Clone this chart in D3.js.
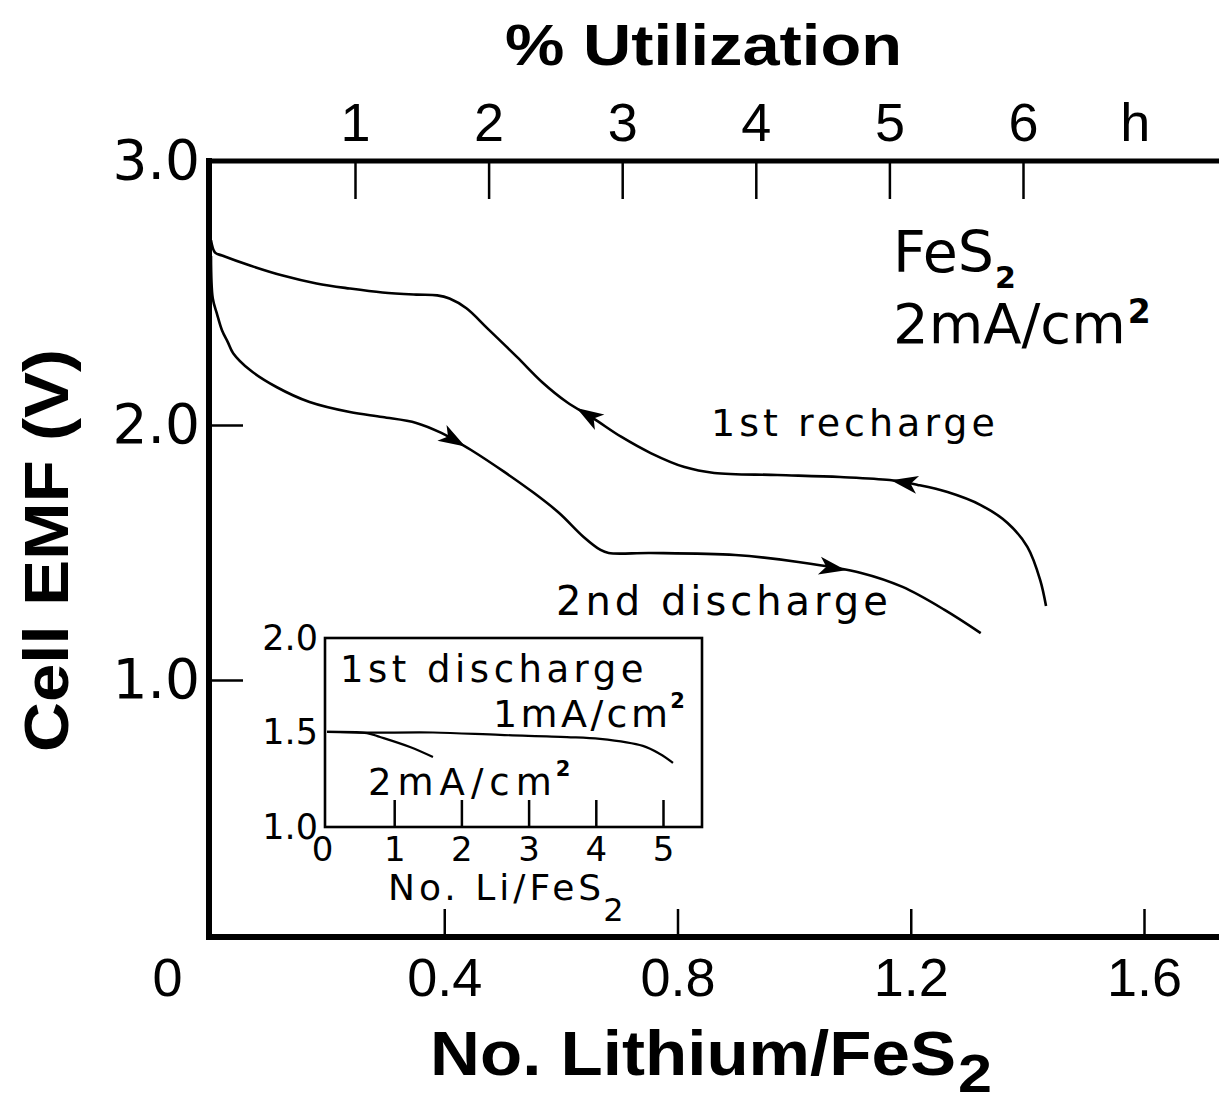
<!DOCTYPE html>
<html>
<head>
<meta charset="utf-8">
<script src="https://cdn.jsdelivr.net/npm/d3@7"></script>
<style>
  html, body { margin: 0; padding: 0; background: #fff; }
  svg { display: block; }
</style>
</head>
<body>
<svg id="chart" width="1219" height="1102"></svg>
<script>
// Li / FeS2 cell: cell EMF against lithium taken up per FeS2

// main axes
const liTicks = [0, 0.4, 0.8, 1.2, 1.6];
const liTickLabels = ["0", "0.4", "0.8", "1.2", "1.6"];
const voltTicks = [1, 2, 3];
const voltTickLabels = ["1.0", "2.0", "3.0"];
const hourTicks = [1, 2, 3, 4, 5, 6];

// [Li per FeS2, cell EMF in V], listed in the order the cell travelled
const recharge1 = [
  [1.432, 1.290], [1.422, 1.392], [1.400, 1.522], [1.366, 1.616], [1.320, 1.686],
  [1.263, 1.737], [1.212, 1.765], [1.164, 1.784], [1.079, 1.796], [0.971, 1.804],
  [0.863, 1.812], [0.812, 1.835], [0.754, 1.890], [0.704, 1.953], [0.655, 2.026],
  [0.610, 2.087], [0.568, 2.162], [0.525, 2.257], [0.474, 2.366], [0.438, 2.442],
  [0.409, 2.479], [0.388, 2.491], [0.352, 2.494], [0.294, 2.502], [0.238, 2.517],
  [0.181, 2.536], [0.123, 2.566], [0.067, 2.604], [0.019, 2.642], [0.007, 2.653],
  [0.000, 2.700]
];
const discharge2 = [
  [0.000, 2.640], [0.003, 2.480], [0.010, 2.423], [0.019, 2.358], [0.029, 2.313],
  [0.038, 2.272], [0.067, 2.208], [0.113, 2.143], [0.169, 2.087], [0.238, 2.049],
  [0.294, 2.030], [0.352, 2.008], [0.395, 1.969], [0.417, 1.941], [0.446, 1.902],
  [0.503, 1.816], [0.554, 1.733], [0.597, 1.655], [0.639, 1.561], [0.668, 1.510],
  [0.682, 1.498], [0.754, 1.498], [0.899, 1.490], [1.007, 1.463], [1.115, 1.420],
  [1.186, 1.365], [1.258, 1.275], [1.320, 1.184]
];
// where the direction arrows sit (Li per FeS2)
const rechargeArrows = [1.166, 0.627];
const dischargeArrows = [0.436, 1.089];

// inset: first discharge at two current densities
const insetLiTicks = [0, 1, 2, 3, 4, 5];
const insetVoltTicks = [1.0, 1.5, 2.0];
const insetVoltLabels = ["1.0", "1.5", "2.0"];
const firstDischarge1mA = [
  [0.000, 1.503], [0.595, 1.499], [1.577, 1.500], [2.574, 1.487], [3.571, 1.476],
  [4.063, 1.466], [4.700, 1.429], [4.955, 1.386], [5.149, 1.339]
];
const firstDischarge2mA = [
  [0.000, 1.503], [0.595, 1.497], [0.790, 1.476], [1.235, 1.423], [1.577, 1.370]
];

const W = 1219, H = 1102;
const svg = d3.select("#chart");
svg.append("rect").attr("width", W).attr("height", H).attr("fill", "#fff");

const SANS = "'Liberation Sans', Arial, Helvetica, sans-serif";
const WIDE = "'DejaVu Sans', Verdana, sans-serif";

// scales
const x = d3.scaleLinear().domain([0, 1.6]).range([211, 1144]);
const y = d3.scaleLinear().domain([0, 1, 2, 3]).range([937, 680, 425, 161]);
const hx = d3.scaleLinear().domain([1, 6]).range([355, 1023]);

const frameLeft = 209, frameTop = y(3), frameBottom = y(0);

// text followed by a raised or lowered small "2"
function scripted(parent, px, py, main, opts) {
  const t = parent.append("text").attr("x", px).attr("y", py)
    .attr("font-family", opts.family).attr("font-size", opts.size)
    .attr("font-weight", opts.weight || "normal")
    .attr("letter-spacing", opts.spacing || 0)
    .text(main);
  if (opts.length) t.attr("textLength", opts.length).attr("lengthAdjust", "spacingAndGlyphs");
  const w = opts.length || t.node().getComputedTextLength();
  const s = parent.append("text")
    .attr("x", px + w + (opts.gap || 0)).attr("y", py + opts.shift)
    .attr("font-family", opts.family).attr("font-size", opts.scriptSize)
    .attr("font-weight", opts.scriptWeight || "normal")
    .text("2");
  if (opts.scriptLength) s.attr("textLength", opts.scriptLength).attr("lengthAdjust", "spacingAndGlyphs");
  return t;
}

// bottom axis: Li per FeS2
const gx = svg.append("g")
  .attr("transform", `translate(0,${frameBottom})`)
  .call(d3.axisBottom(x).tickValues(liTicks)
    .tickFormat((d, i) => liTickLabels[i])
    .tickSize(-28).tickSizeOuter(0).tickPadding(21));
gx.select(".domain").remove();
gx.selectAll(".tick line").attr("stroke", "#000").attr("stroke-width", 2.5);
gx.selectAll(".tick text").attr("font-family", SANS).attr("font-size", 54).attr("fill", "#000");
gx.selectAll(".tick").filter(d => d === 0).select("line").remove();
gx.selectAll(".tick").filter(d => d === 0).select("text").attr("x", -44);

// top axis: hours of discharge
const gt = svg.append("g")
  .attr("transform", `translate(0,${frameTop})`)
  .call(d3.axisTop(hx).tickValues(hourTicks).tickFormat(d3.format("d"))
    .tickSize(-38).tickSizeOuter(0).tickPadding(20));
gt.select(".domain").remove();
gt.selectAll(".tick line").attr("stroke", "#000").attr("stroke-width", 2.5);
gt.selectAll(".tick text").attr("font-family", SANS).attr("font-size", 54).attr("fill", "#000");
svg.append("text")
  .attr("x", hx(6.84)).attr("y", frameTop - 20)
  .attr("text-anchor", "middle")
  .attr("font-family", SANS).attr("font-size", 54)
  .text("h");

// left axis: cell EMF
const gy = svg.append("g")
  .attr("transform", `translate(${frameLeft},0)`)
  .call(d3.axisLeft(y).tickValues(voltTicks)
    .tickFormat((d, i) => voltTickLabels[i])
    .tickSize(-34).tickSizeOuter(0).tickPadding(9));
gy.select(".domain").remove();
gy.selectAll(".tick line").attr("stroke", "#000").attr("stroke-width", 2.5);
gy.selectAll(".tick text").attr("font-family", WIDE).attr("font-size", 55).attr("fill", "#000");
gy.selectAll(".tick").filter(d => d === 3).select("line").remove();

// heavy frame on three sides
svg.append("line").attr("x1", frameLeft).attr("x2", frameLeft)
  .attr("y1", frameTop - 3).attr("y2", frameBottom + 3)
  .attr("stroke", "#000").attr("stroke-width", 6);
svg.append("line").attr("x1", frameLeft - 3).attr("x2", W)
  .attr("y1", frameTop).attr("y2", frameTop)
  .attr("stroke", "#000").attr("stroke-width", 5);
svg.append("line").attr("x1", frameLeft - 3).attr("x2", W)
  .attr("y1", frameBottom).attr("y2", frameBottom)
  .attr("stroke", "#000").attr("stroke-width", 6);

// axis titles
svg.append("text")
  .attr("x", 505).attr("y", 65)
  .attr("font-family", SANS).attr("font-weight", "bold").attr("font-size", 58)
  .attr("textLength", 397).attr("lengthAdjust", "spacingAndGlyphs")
  .text("% Utilization");

scripted(svg, 430, 1075, "No. Lithium/FeS", {
  family: SANS, size: 63, weight: "bold", length: 526,
  scriptSize: 54, scriptWeight: "bold", scriptLength: 34, shift: 17, gap: 2
});

svg.append("text")
  .attr("transform", "translate(68,551) rotate(-90)")
  .attr("x", -201).attr("y", 0)
  .attr("font-family", SANS).attr("font-weight", "bold").attr("font-size", 63)
  .attr("textLength", 403).attr("lengthAdjust", "spacingAndGlyphs")
  .text("Cell EMF (V)");

// curves
const line = d3.line()
  .x(d => x(d[0])).y(d => y(d[1]))
  .curve(d3.curveCatmullRom.alpha(0.5));

svg.append("path").datum(recharge1)
  .attr("d", line).attr("fill", "none")
  .attr("stroke", "#000").attr("stroke-width", 2.6).attr("stroke-linejoin", "round");
svg.append("path").datum(discharge2)
  .attr("d", line).attr("fill", "none")
  .attr("stroke", "#000").attr("stroke-width", 2.6).attr("stroke-linejoin", "round");

// arrowheads pointing along the direction of travel
function arrowAt(data, xv) {
  for (let i = 0; i < data.length - 1; i++) {
    const a = data[i], b = data[i + 1];
    if (a[0] === b[0]) continue;
    if ((a[0] - xv) * (b[0] - xv) <= 0) {
      const t = (xv - a[0]) / (b[0] - a[0]);
      const px = x(xv), py = y(a[1] + t * (b[1] - a[1]));
      const ang = Math.atan2(y(b[1]) - y(a[1]), x(b[0]) - x(a[0])) * 180 / Math.PI;
      return { px, py, ang };
    }
  }
  return null;
}
function drawArrows(data, xs) {
  xs.forEach(xv => {
    const p = arrowAt(data, xv);
    if (!p) return;
    svg.append("path")
      .attr("d", "M0,0 L-27,-9 L-20,0 L-27,9 Z")
      .attr("transform", `translate(${p.px},${p.py}) rotate(${p.ang})`)
      .attr("fill", "#000");
  });
}
drawArrows(recharge1, rechargeArrows);
drawArrows(discharge2, dischargeArrows);

// annotations
scripted(svg, 893, 272, "FeS", {
  family: WIDE, size: 57, scriptSize: 30, scriptWeight: "bold", shift: 16, gap: 1
});
scripted(svg, 893, 343, "2mA/cm", {
  family: WIDE, size: 56, scriptSize: 33, scriptWeight: "bold", shift: -20, gap: 2
});

svg.append("text").attr("x", 711).attr("y", 436)
  .attr("font-family", WIDE).attr("font-size", 38).attr("letter-spacing", 4)
  .text("1st recharge");
svg.append("text").attr("x", 556).attr("y", 615)
  .attr("font-family", WIDE).attr("font-size", 40).attr("letter-spacing", 4)
  .text("2nd discharge");

// ---- inset ----
const ix = d3.scaleLinear().domain([0, 5]).range([327, 663]);
const iy = d3.scaleLinear().domain([1, 2]).range([827, 638]);
const inset = svg.append("g");

inset.append("rect")
  .attr("x", 325).attr("y", iy(2)).attr("width", 377).attr("height", iy(1) - iy(2))
  .attr("fill", "none").attr("stroke", "#000").attr("stroke-width", 2.6);

const igx = inset.append("g")
  .attr("transform", `translate(0,${iy(1)})`)
  .call(d3.axisBottom(ix).tickValues(insetLiTicks).tickFormat(d3.format("d"))
    .tickSize(-27).tickSizeOuter(0).tickPadding(10));
igx.select(".domain").remove();
igx.selectAll(".tick line").attr("stroke", "#000").attr("stroke-width", 2.5);
igx.selectAll(".tick text").attr("font-family", WIDE).attr("font-size", 34).attr("fill", "#000");
igx.selectAll(".tick").filter(d => d === 0).select("line").remove();
igx.selectAll(".tick").filter(d => d === 0).select("text").attr("x", -5);

const igy = inset.append("g")
  .attr("transform", "translate(325,0)")
  .call(d3.axisLeft(iy).tickValues(insetVoltTicks)
    .tickFormat((d, i) => insetVoltLabels[i])
    .tickSize(0).tickSizeOuter(0).tickPadding(7));
igy.select(".domain").remove();
igy.selectAll(".tick text").attr("font-family", WIDE).attr("font-size", 35).attr("fill", "#000");

const iline = d3.line()
  .x(d => ix(d[0])).y(d => iy(d[1]))
  .curve(d3.curveCatmullRom.alpha(0.5));
inset.append("path").datum(firstDischarge1mA)
  .attr("d", iline).attr("fill", "none").attr("stroke", "#000").attr("stroke-width", 2.2);
inset.append("path").datum(firstDischarge2mA)
  .attr("d", iline).attr("fill", "none").attr("stroke", "#000").attr("stroke-width", 2.2);

inset.append("text").attr("x", 340).attr("y", 682)
  .attr("font-family", WIDE).attr("font-size", 37).attr("letter-spacing", 4.5)
  .text("1st discharge");
scripted(inset, 493, 727, "1mA/cm", {
  family: WIDE, size: 38, spacing: 3.4, scriptSize: 21, scriptWeight: "bold", shift: -19, gap: -1
});
scripted(inset, 368, 795, "2mA/cm", {
  family: WIDE, size: 37, spacing: 6, scriptSize: 21, scriptWeight: "bold", shift: -19, gap: -2
});
scripted(inset, 388, 900, "No. Li/FeS", {
  family: WIDE, size: 36, spacing: 4, scriptSize: 32, shift: 21, gap: -2
});
</script>
</body>
</html>
